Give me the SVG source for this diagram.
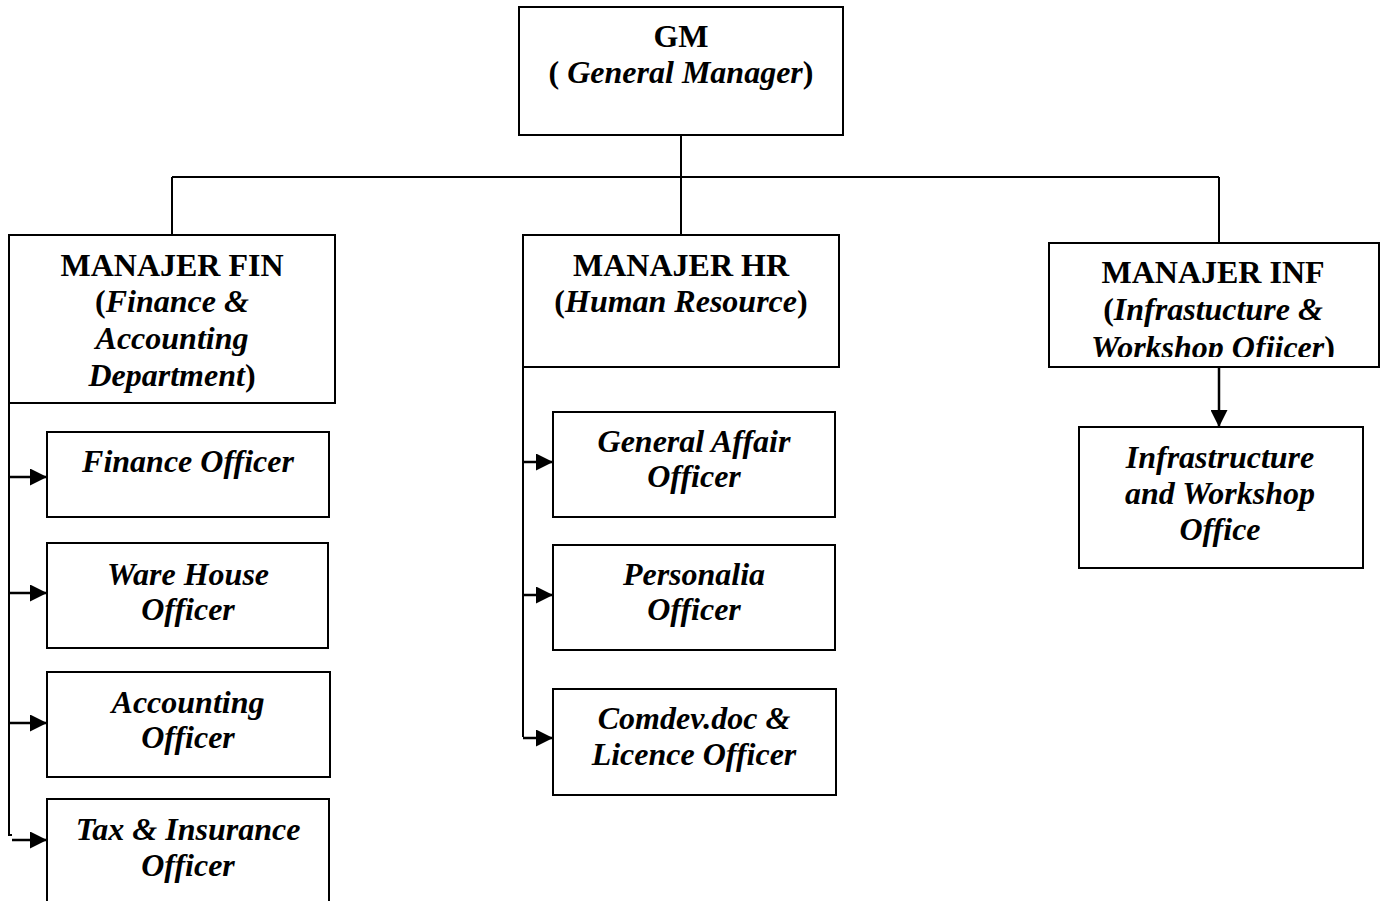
<svg xmlns="http://www.w3.org/2000/svg" width="1384" height="901" viewBox="0 0 1384 901">
<defs>
<marker id="ah" viewBox="0 0 17 17" markerWidth="17" markerHeight="17" refX="17" refY="8.5" orient="auto" markerUnits="userSpaceOnUse">
<path d="M0,0 L17,8.5 L0,17 Z" fill="#000"/>
</marker>
<clipPath id="infclip"><rect x="1049" y="243" width="330" height="114"/></clipPath>
</defs>
<style>
.box{fill:#fff;stroke:#000;stroke-width:2}
.ln{fill:none;stroke:#000;stroke-width:2}
.arr{fill:none;stroke:#000;stroke-width:2.5;marker-end:url(#ah)}
text{font-family:"Liberation Serif","Times New Roman",serif;font-size:32px;font-weight:bold;text-anchor:middle;fill:#000}
.it{font-style:italic}
</style>
<rect width="1384" height="901" fill="#fff"/>
<g id="connectors">
<path class="ln" d="M681,135 V177 M172,177 H1219 M172,177 V235 M681,177 V235 M1219,177 V243"/>
<path class="arr" d="M1219,367 V427"/>
<path class="ln" d="M9,403 V835 H12"/>
<path class="arr" d="M9,477 H47"/>
<path class="arr" d="M9,593 H47"/>
<path class="arr" d="M9,723 H47"/>
<path class="arr" d="M12,840 H47"/>
<path class="ln" d="M523,367 V737"/>
<path class="arr" d="M523,462 H553"/>
<path class="arr" d="M523,595 H553"/>
<path class="arr" d="M523,738 H553"/>
</g>
<g id="gm">
<rect class="box" x="519" y="7" width="324" height="128"/>
<text x="681" y="47">GM</text>
<text x="681" y="83">( <tspan class="it">General Manager</tspan>)</text>
</g>
<g id="fin">
<rect class="box" x="9" y="235" width="326" height="168"/>
<text x="172" y="276">MANAJER FIN</text>
<text x="172" y="312">(<tspan class="it">Finance &amp;</tspan></text>
<text x="172" y="349" class="it">Accounting</text>
<text x="172" y="386"><tspan class="it">Department</tspan>)</text>
</g>
<g id="hr">
<rect class="box" x="523" y="235" width="316" height="132"/>
<text x="681" y="276">MANAJER HR</text>
<text x="681" y="312">(<tspan class="it">Human Resource</tspan>)</text>
</g>
<g id="inf">
<rect class="box" x="1049" y="243" width="330" height="124"/>
<g clip-path="url(#infclip)">
<text x="1213" y="283">MANAJER INF</text>
<text x="1213" y="320">(<tspan class="it">Infrastucture &amp;</tspan></text>
<text x="1213" y="358"><tspan class="it">Workshop Ofiicer</tspan>)</text>
</g>
</g>
<g id="finance-officer">
<rect class="box" x="47" y="432" width="282" height="85"/>
<text x="188" y="472" class="it">Finance Officer</text>
</g>
<g id="warehouse-officer">
<rect class="box" x="47" y="543" width="281" height="105"/>
<text x="188" y="585" class="it">Ware House</text>
<text x="188" y="620" class="it">Officer</text>
</g>
<g id="accounting-officer">
<rect class="box" x="47" y="672" width="283" height="105"/>
<text x="188" y="713" class="it">Accounting</text>
<text x="188" y="748" class="it">Officer</text>
</g>
<g id="tax-officer">
<rect class="box" x="47" y="799" width="282" height="110"/>
<text x="188" y="840" class="it">Tax &amp; Insurance</text>
<text x="188" y="876" class="it">Officer</text>
</g>
<g id="general-affair-officer">
<rect class="box" x="553" y="412" width="282" height="105"/>
<text x="694" y="452" class="it">General Affair</text>
<text x="694" y="487" class="it">Officer</text>
</g>
<g id="personalia-officer">
<rect class="box" x="553" y="545" width="282" height="105"/>
<text x="694" y="585" class="it">Personalia</text>
<text x="694" y="620" class="it">Officer</text>
</g>
<g id="comdev-officer">
<rect class="box" x="553" y="689" width="283" height="106"/>
<text x="694" y="729" class="it">Comdev.doc &amp;</text>
<text x="694" y="765" class="it">Licence Officer</text>
</g>
<g id="infra-office">
<rect class="box" x="1079" y="427" width="284" height="141"/>
<text x="1220" y="468" class="it">Infrastructure</text>
<text x="1220" y="504" class="it">and Workshop</text>
<text x="1220" y="540" class="it">Office</text>
</g>
</svg>
